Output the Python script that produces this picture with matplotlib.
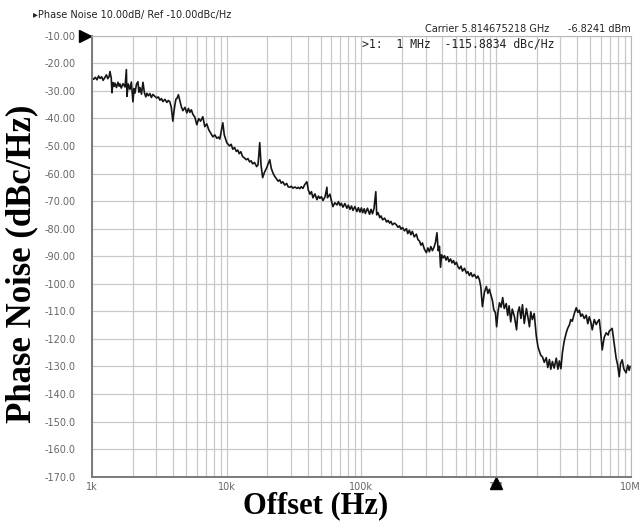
from matplotlib import pyplot as plt
from matplotlib.ticker import LogLocator, NullFormatter

offset_hz = [
    1000, 1030, 1060, 1090, 1120, 1150, 1180, 1210, 1250, 1280,
    1310, 1340, 1360, 1390, 1407, 1430, 1460, 1481, 1520, 1559,
    1590, 1613, 1650, 1698, 1760, 1800, 1818, 1860, 1913, 1960,
    2014, 2050, 2085, 2140, 2194, 2230, 2272, 2330, 2391, 2450,
    2510, 2558, 2620, 2693, 2760, 2834, 2930, 3032, 3110, 3193,
    3280, 3360, 3480, 3597, 3690, 3786, 3880, 3985, 4060, 4125,
    4200, 4270, 4380, 4490, 4610, 4730, 4900, 5060, 5200, 5330,
    5470, 5610, 5800, 6000, 6200, 6400, 6650, 6880, 7120, 7370,
    7640, 7900, 8170, 8450, 8700, 8890, 9130, 9360, 9600, 10020,
    10500, 10800, 11100, 11450, 11800, 12100, 12400, 12750, 13100, 13500,
    14000, 14400, 14800, 15200, 15600, 16100, 16700, 17100, 17600, 18000,
    18500, 19100, 19800, 20300, 20900, 21400, 22000, 22700, 23500, 24100,
    24800, 25400, 26100, 27000, 27900, 28600, 29400, 30200, 31000, 32100,
    33200, 34000, 34900, 35800, 36800, 38000, 39400, 40400, 41500, 42600,
    43700, 45200, 46800, 48000, 49200, 50500, 51900, 53700, 55500, 56000,
    58400, 60000, 61500, 63600, 65900, 67600, 69400, 71000, 73000, 75500,
    78100, 80000, 82300, 84500, 86600, 89500, 92700, 95000, 97600,
    100000, 102300, 105000, 107000, 111000, 115000, 118000, 121000, 124000, 128000,
    130000, 133000, 137000, 140000, 144000, 149000, 154000, 158000, 162000, 166000,
    170000, 176000, 182000, 187000, 192000, 197000, 202000, 209000, 216000, 221000,
    227000, 233000, 239000, 247000, 256000, 263000, 270000, 277000, 284000, 294000,
    304000, 312000, 320000, 328000, 337000, 346000, 355000, 364000, 372000, 380000,
    387000, 394000, 404000, 414000, 425000, 436000, 447000, 459000, 471000, 483000,
    495000, 508000, 521000, 535000, 549000, 563000, 583000, 603000, 618000, 634000,
    651000, 668000, 690000, 715000, 733000, 752000, 770000, 792000, 820000, 848000,
    870000, 892000, 915000, 939000, 962000, 989000,
    1010000, 1035000, 1060000, 1090000, 1120000, 1150000, 1190000, 1220000, 1250000, 1285000,
    1320000, 1370000, 1420000, 1450000, 1490000, 1530000, 1570000, 1620000, 1680000, 1720000,
    1770000, 1810000, 1860000, 1920000, 1990000, 2050000, 2100000, 2150000, 2210000, 2280000,
    2360000, 2420000, 2490000, 2550000, 2620000, 2700000, 2800000, 2880000, 2950000, 3030000,
    3110000, 3200000, 3320000, 3400000, 3500000, 3590000, 3680000, 3800000, 3940000, 4050000,
    4150000, 4260000, 4370000, 4520000, 4670000, 4800000, 4920000, 5050000, 5180000, 5360000,
    5540000, 5700000, 5840000, 5990000, 6140000, 6350000, 6570000, 6800000, 6920000, 7100000,
    7280000, 7500000, 7790000, 8000000, 8210000, 8400000, 8640000, 8900000, 9240000, 9500000,
    9730000, 9900000,
]
phase_noise = [
    -25.3, -25.8, -25.1, -26.0, -24.6, -25.5, -24.9, -26.2, -25.0, -24.2,
    -25.6, -24.8, -23.0, -25.4, -30.7, -27.0, -28.4, -27.2, -28.8, -26.9,
    -28.3, -27.5, -29.0, -27.4, -28.6, -22.3, -32.0, -27.5, -29.5, -26.8,
    -34.0, -29.2, -30.8, -27.6, -26.7, -30.5, -28.8, -31.2, -26.9, -30.7,
    -32.2, -30.9, -31.8, -31.0, -32.4, -31.3, -32.0, -32.6, -32.2, -33.4,
    -32.8, -33.9, -33.1, -34.2, -33.5, -34.0, -36.0, -41.0, -37.5, -35.2,
    -33.0, -32.8, -31.4, -33.5, -35.8, -37.2, -36.0, -38.0, -36.4, -37.8,
    -36.9, -38.5, -39.5, -42.3, -40.1, -41.0, -39.4, -43.0, -42.0, -44.2,
    -45.5, -46.7, -46.0, -47.2, -46.8, -47.5, -44.5, -41.6, -46.0, -48.8,
    -50.0, -49.4, -51.2, -50.6, -52.0, -51.5, -52.8, -52.1, -53.8, -54.3,
    -55.0, -54.6, -55.8, -55.4, -56.5, -56.0, -57.5, -56.8, -48.8, -57.0,
    -61.5, -59.5, -58.0, -56.5, -55.0, -58.0, -59.7, -61.0, -62.0, -62.8,
    -62.3, -63.5, -63.0, -64.2, -63.6, -64.8, -65.0, -64.6, -65.3, -64.9,
    -65.4, -65.0, -65.5, -64.8, -65.4, -64.0, -63.0, -66.0, -67.5, -66.6,
    -68.8, -67.4, -69.5, -68.2, -69.0, -68.4, -69.8, -68.5, -65.0, -68.8,
    -67.5, -70.0, -72.0, -70.6, -71.4, -70.2, -71.6, -70.8, -72.2, -70.9,
    -72.6, -71.5, -73.0, -71.8, -73.4, -72.0, -73.8, -72.4, -74.0,
    -72.5, -74.2, -72.8, -74.5, -72.6, -74.8, -73.0, -74.6, -72.8, -66.6,
    -75.0, -74.2, -76.0, -75.4, -76.8, -76.2, -77.6, -77.0, -78.0, -77.4,
    -78.6, -78.0, -78.6, -79.5, -79.0, -80.2, -79.6, -80.8, -80.0, -81.8,
    -80.6, -82.2, -81.0, -83.0, -82.0, -84.0, -84.5, -86.0, -85.2, -87.5,
    -88.7, -87.0, -88.4, -86.5, -88.0, -86.8, -85.0, -81.5, -88.0, -86.4,
    -94.0, -89.5, -90.6, -89.8, -91.4, -90.2, -92.0, -91.0, -92.4, -91.6,
    -93.0, -92.2, -93.8, -94.6, -93.6, -95.4, -94.4, -96.2, -95.6, -97.0,
    -96.0, -97.4, -96.6, -98.0, -97.2, -98.5, -101.0, -108.3, -103.0, -101.0,
    -103.5, -102.0, -104.0, -106.0, -109.4, -110.5,
    -115.6, -110.0, -106.9, -108.5, -105.0, -109.0, -107.2, -111.5, -108.0, -113.8,
    -109.2, -112.0, -116.7, -110.5, -108.4, -112.6, -107.6, -114.4, -109.0, -111.8,
    -115.6, -110.2, -113.0, -110.8, -119.0, -123.0, -124.5, -126.0, -126.5, -128.5,
    -126.8, -130.4, -127.5, -131.0, -128.2, -130.6, -127.0, -131.0, -128.0, -130.8,
    -125.0, -121.0, -117.8, -116.2, -115.0, -113.0, -113.6, -111.0, -108.7, -110.4,
    -109.6, -111.8, -111.0, -112.6, -111.4, -114.5, -112.0, -113.8, -116.7, -113.0,
    -114.8, -113.6, -113.0, -118.0, -124.0, -119.5, -117.8, -118.6, -117.2, -116.7,
    -116.2, -121.0, -127.0, -129.5, -133.7, -129.0, -127.6, -131.0, -132.3, -129.5,
    -131.4, -130.0,
]

x_ticks = [1e3, 1e4, 1e5, 1e6, 1e7]
x_tick_labels = ["1k", "10k", "100k", "1M", "10M"]
y_ticks = list(range(-10, -171, -10))
y_tick_labels = ["%.2f" % v if v > -100 else "%.1f" % v for v in y_ticks]

fig = plt.figure(figsize=(6.41, 5.22), dpi=100)
ax = fig.add_axes([0.1435, 0.0868, 0.8405, 0.8448])

ax.plot(offset_hz, phase_noise, color="#151515", lw=1.2)

ax.set_xscale("log")
ax.set_xlim(1e3, 1e7)
ax.set_ylim(-170, -10)
ax.set_xticks(x_ticks)
ax.set_xticklabels(x_tick_labels)
ax.xaxis.set_minor_locator(LogLocator(base=10, subs=range(2, 10)))
ax.xaxis.set_minor_formatter(NullFormatter())
ax.set_yticks(y_ticks)
ax.set_yticklabels(y_tick_labels)
ax.tick_params(which="both", length=0, labelsize=7, labelcolor="#666666")
ax.tick_params(axis="y", pad=12)
ax.tick_params(axis="x", pad=4)
ax.grid(which="both", color="#c8c8c8", lw=0.9)
ax.set_axisbelow(True)

for side in ["top", "right"]:
    ax.spines[side].set_color("#b8b8b8")
for side in ["left", "bottom"]:
    ax.spines[side].set_color("#7a7a7a")
    ax.spines[side].set_linewidth(1.4)

# reference level and marker triangles
ax.plot(-0.013, -10, marker=">", ms=8, color="black",
        transform=ax.get_yaxis_transform(), clip_on=False)
ax.plot(1e6, -0.014, marker="^", ms=9, color="black",
        transform=ax.get_xaxis_transform(), clip_on=False)

# axis titles
fig.text(22 / 641, 1 - 264 / 522, "Phase Noise (dBc/Hz)", family="Liberation Serif",
         fontsize=25, fontweight="bold", rotation=90, ha="center", va="center")
fig.text(316 / 641, 1 - 506 / 522, "Offset (Hz)", family="Liberation Serif",
         fontsize=22, fontweight="bold", ha="center", va="center")

fig.text(33 / 641, 1 - 15 / 522, "\u25b8Phase Noise 10.00dB/ Ref -10.00dBc/Hz",
         fontsize=7, color="#222222", va="center")
fig.text(549 / 641, 1 - 29 / 522, "Carrier 5.814675218 GHz",
         fontsize=7, color="#222222", va="center", ha="right")
fig.text(631 / 641, 1 - 29 / 522, "-6.8241 dBm",
         fontsize=7, color="#222222", va="center", ha="right")
fig.text(362 / 641, 1 - 44 / 522, ">1:  1 MHz  -115.8834 dBc/Hz",
         family="DejaVu Sans Mono", fontsize=8.3, color="#222222", va="center")

fig.savefig("out.png", dpi=100)
